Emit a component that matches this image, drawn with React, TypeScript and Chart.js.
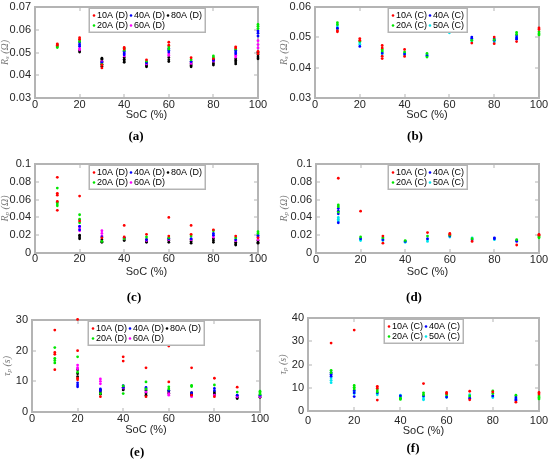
import { useEffect, useRef } from "react";
import { Chart, registerables } from "chart.js";

Chart.register(...registerables);

// state of charge on the x axis
const SOC = [10, 20, 30, 40, 50, 60, 70, 80, 90, 100];

// (a) Rs, discharge — one list of readings per SoC
const rsD10 = [[0.0538, 0.0532], [0.0565, 0.0558], [0.0445, 0.0432], [0.0522, 0.0515], [0.0468], [0.0545, 0.0532], [0.0477], [0.0472], [0.0525, 0.052], [0.0505, 0.0495]];
const rsD20 = [[0.0534, 0.0526, 0.0522], [0.0555, 0.0548], [0.0448], [0.0518, 0.051], [0.0462], [0.0525, 0.0515], [0.0468], [0.0485, 0.0478], [0.0515], [0.0623, 0.0615, 0.0605]];
const rsD40 = [[], [0.0543, 0.0535, 0.0528], [0.0455], [0.0505, 0.0498, 0.049], [0.0455], [0.0518, 0.051, 0.0502], [0.046], [0.047, 0.0465], [0.051, 0.0502, 0.0495], [0.0595, 0.0585, 0.0572]];
const rsD60 = [[], [0.0518, 0.0512], [0.046], [0.0495, 0.0485], [0.045], [0.0495, 0.0488], [0.0452], [0.0462], [0.0488, 0.048], [0.0552, 0.0535, 0.052]];
const rsD80 = [[], [0.0508, 0.0502], [0.0475, 0.047, 0.0462, 0.0455, 0.0448, 0.044], [0.0478, 0.047, 0.0463, 0.0457], [0.0455, 0.0448, 0.0442, 0.0437], [0.0478, 0.0468, 0.046], [0.0458, 0.045, 0.0443, 0.0437], [0.0468, 0.046, 0.0452, 0.0445], [0.0472, 0.0465, 0.0458, 0.045], [0.05, 0.049, 0.048, 0.0472]];

// (b) Rs, charge
const rsC10 = [[0.0522, 0.0518], [0.0496, 0.049], [0.0473, 0.0465, 0.0438, 0.043], [0.046, 0.0437], [], [], [0.0481], [0.0501, 0.0479], [0.0486], [0.0531, 0.0526]];
const rsC20 = [[0.0548, 0.0542], [0.0487], [0.046, 0.0455], [0.0452], [0.0447, 0.0435], [], [0.049], [0.0492], [0.0516, 0.051], [0.0518, 0.0512, 0.0508]];
const rsC40 = [[0.053], [0.047], [0.0448], [0.0445], [0.044], [], [0.0501, 0.0496], [0.0495, 0.049], [0.0505, 0.0498, 0.0494], []];
const rsC50 = [[0.0538, 0.0532, 0.0526], [0.0482, 0.0477], [0.0452, 0.0445], [0.0448, 0.0442], [0.0443, 0.0438], [0.0525, 0.052, 0.0515], [0.0493, 0.0488], [0.0488, 0.0485], [0.05], []];

// (c) Rp, discharge
const rpD10 = [[0.085, 0.067, 0.065, 0.058, 0.048], [0.064, 0.036], [0.017], [0.031, 0.018], [0.021], [0.04, 0.019], [0.031, 0.021], [0.026], [0.019], [0.017]];
const rpD20 = [[0.073, 0.057, 0.055, 0.053], [0.043, 0.038, 0.034], [0.013], [0.016], [0.018], [0.017], [0.019], [0.025], [0.017], [0.024, 0.022]];
const rpD40 = [[], [0.03, 0.026], [0.018], [0.017], [0.015], [0.016], [0.016], [0.022, 0.02], [0.015], [0.02, 0.018]];
const rpD60 = [[], [0.03, 0.028, 0.025], [0.025, 0.022, 0.019], [0.016], [0.014], [0.015], [0.015], [0.018], [0.014], [0.015]];
const rpD80 = [[], [0.02, 0.018, 0.016], [0.015, 0.013, 0.012], [0.017, 0.015, 0.014], [0.015, 0.013, 0.012], [0.016, 0.014, 0.012], [0.015, 0.013, 0.011], [0.016, 0.014, 0.012], [0.012, 0.01, 0.009], [0.014, 0.012, 0.011]];

// (d) Rp, charge
const rpC10 = [[0.084], [0.047], [0.019, 0.011], [], [0.023], [0.022, 0.021], [0.013], [], [0.009], [0.021, 0.02]];
const rpC20 = [[0.054, 0.052, 0.046], [0.018], [0.017], [0.014], [0.019], [0.02], [0.016], [], [0.015], [0.019, 0.018, 0.017]];
const rpC40 = [[0.05, 0.047, 0.044, 0.034], [0.016], [0.015], [0.013], [0.016], [0.019], [0.015], [0.017, 0.016], [0.014, 0.013], []];
const rpC50 = [[0.04, 0.038, 0.036], [0.015, 0.014], [0.016, 0.014], [0.013, 0.012], [0.015, 0.013], [0.018], [0.017], [0.015], [], []];

// (e) tau_p, discharge
const tpD10 = [[26.7, 19.4, 18.8, 13.8], [30.2, 20, 11, 10.5], [5], [18, 16.6], [14.4, 5], [21.5, 9.8], [14.4, 5.5], [11, 5], [8.1], []];
const tpD20 = [[21, 17.5, 16.8, 16], [18, 13], [6], [8.5, 6], [9.8, 7.5], [8.2, 7.5], [8.7, 8.3], [8.8], [6.5], [6.8, 6.3, 5.8]];
const tpD40 = [[], [9.5, 8.8, 8.2], [7.5, 7], [8.6, 8], [8, 7.5], [7], [6.2], [7.7, 7], [5.5], [5.5]];
const tpD60 = [[], [15.3, 14.5, 14], [10.8, 10, 9.2], [7.8], [6.5], [6, 5.5], [5], [5.5], [5], [5]];
const tpD80 = [[], [13.8, 12.5, 11.5], [7.2, 6.5, 5.8], [8, 7.5, 7.2], [7, 6.2, 5.5], [7, 6.5, 6], [6.3, 5.8, 5.3], [6.5, 6, 5.5], [5.3, 4.8, 4.4], [5.2, 4.8]];

// (f) tau_p, charge
const tpC10 = [[29.2], [34.8], [10.6, 9.8, 4.7], [], [11.8], [8, 7.5], [8.5, 4.8], [8.2], [3.8], [8, 7.3]];
const tpC20 = [[17.5, 16.5], [11, 10.2, 9.5], [9, 8.2], [5.5, 5], [7.8, 7], [7], [6.5], [8.6, 7.5], [6.8], [6.5, 5.8, 5.2]];
const tpC40 = [[16.5, 15.8, 15], [8.8, 7.8, 6.2], [7.8], [6.5], [6.5], [6], [5.5], [6.5], [6, 5, 4.5], []];
const tpC50 = [[14.2, 13.2, 12.2], [8.5, 7.5], [7.5, 7], [6.8, 6, 5.5], [6, 5.2, 4.8], [6.5, 5.8], [7, 6], [6.5, 5.8], [5.5], []];

const RED = "#ff0000";
const GREEN = "#00e600";
const BLUE = "#0000ff";
const MAGENTA = "#ff00ff";
const BLACK = "#000000";
const CYAN = "#00e5ee";

const TEXT = "#262626";
const FRAME = "#b4b4b4";
const SANS = '"Liberation Sans", Arial, sans-serif';
const SERIF = '"Liberation Serif", "DejaVu Serif", serif';

type Series = { label: string; color: string; values: number[][] };
type Area = { l: number; r: number; t: number; b: number };

interface PanelProps {
  left: number;
  top: number;
  height: number;
  area: Area;
  tickY: number;
  titleY: number;
  yTitleX: number;
  yMin: number;
  yMax: number;
  yStep: number;
  yFmt: (v: number) => string;
  ySym: string;
  ySub: string;
  yUnit: string;
  series: Series[];
  caption: string;
  capX: number;
  capY: number;
}

const W = 275;

// box round the plot area, with short ticks pointing inwards (filled 2px bars)
const framePlugin = {
  id: "frame",
  beforeDatasetsDraw(chart: any) {
    const { ctx, chartArea: a, scales } = chart;
    const L = Math.round(a.left);
    const R = Math.round(a.right);
    const T = Math.round(a.top);
    const B = Math.round(a.bottom);
    ctx.save();
    ctx.fillStyle = FRAME;
    ctx.fillRect(L - 1, T - 1, R - L + 2, 2);
    ctx.fillRect(L - 1, B - 1, R - L + 2, 2);
    ctx.fillRect(L - 1, T - 1, 2, B - T + 2);
    ctx.fillRect(R - 1, T - 1, 2, B - T + 2);
    scales.x.ticks.forEach((t: any) => {
      const px = Math.round(scales.x.getPixelForValue(t.value));
      ctx.fillRect(px - 0.5, B - 4, 1, 3);
      ctx.fillRect(px - 0.5, T + 1, 1, 3);
    });
    scales.y.ticks.forEach((t: any) => {
      const py = Math.round(scales.y.getPixelForValue(t.value));
      ctx.fillRect(L + 1, py - 0.5, 3, 1);
      ctx.fillRect(R - 4, py - 0.5, 3, 1);
    });
    ctx.restore();
  },
};

const boxLegend = {
  id: "boxLegend",
  afterDatasetsDraw(chart: any) {
    const { ctx, chartArea: a } = chart;
    const ds = chart.data.datasets;
    const rows = 2;
    const cols = Math.ceil(ds.length / rows);
    ctx.save();
    ctx.font = `9px ${SANS}`;
    const textW = Math.max(...ds.map((d: any) => ctx.measureText(d.label).width));
    const colW = textW + 6;
    const boxW = Math.round(5 + (cols - 1) * colW + 3 + textW + 3);
    const rowH = 10;
    const boxH = rows * rowH + 4;
    const x0 = Math.round((a.left + a.right) / 2 - boxW / 2);
    const y0 = Math.round(a.top) + 1;
    ctx.fillStyle = FRAME;
    ctx.fillRect(x0 - 0.5, y0 - 0.5, boxW + 1.5, boxH + 1.5);
    ctx.fillStyle = "#ffffff";
    ctx.fillRect(x0 + 1, y0 + 1, boxW - 1.5, boxH - 1.5);
    ds.forEach((d: any, i: number) => {
      const c = Math.floor(i / rows);
      const r = i % rows;
      const cx = x0 + 5 + c * colW;
      const cy = y0 + 2.5 + r * rowH + rowH / 2;
      ctx.fillStyle = d.backgroundColor;
      ctx.beginPath();
      ctx.arc(cx, cy, 1.3, 0, Math.PI * 2);
      ctx.fill();
      ctx.fillStyle = "#000000";
      ctx.textBaseline = "middle";
      ctx.textAlign = "left";
      ctx.fillText(d.label, cx + 3, cy + 0.5);
    });
    ctx.restore();
  },
};

function makeYTitle(sym: string, sub: string, unit: string, tx: number) {
  return {
    id: "yTitle",
    afterDraw(chart: any) {
      const { ctx, chartArea: a } = chart;
      const big = `italic 10px ${SERIF}`;
      const small = `italic 7px ${SERIF}`;
      ctx.save();
      ctx.font = big;
      const w1 = ctx.measureText(sym).width;
      const w3 = ctx.measureText(unit).width;
      ctx.font = small;
      const w2 = ctx.measureText(sub).width;
      const total = w1 + w2 + w3;
      ctx.translate(tx, (a.top + a.bottom) / 2);
      ctx.rotate(-Math.PI / 2);
      ctx.fillStyle = "#7a7a7a";
      ctx.textBaseline = "middle";
      ctx.textAlign = "left";
      let x = -total / 2;
      ctx.font = big;
      ctx.fillText(sym, x, 0);
      x += w1;
      ctx.font = small;
      ctx.fillText(sub, x, 2.5);
      x += w2;
      ctx.font = big;
      ctx.fillText(unit, x, 0);
      ctx.restore();
    },
  };
}

function Panel(p: PanelProps) {
  const canvasRef = useRef<HTMLCanvasElement | null>(null);
  const chartRef = useRef<Chart | null>(null);

  useEffect(() => {
    const ctx = canvasRef.current?.getContext("2d");
    if (!ctx) return;
    const { area, height } = p;
    const datasets = p.series.map((s) => ({
      label: s.label,
      data: SOC.flatMap((x, i) => s.values[i].map((y) => ({ x, y }))),
      backgroundColor: s.color,
      borderWidth: 0,
      pointRadius: 1.4,
      pointHoverRadius: 1.4,
      clip: 4,
    }));
    const tickFont = { family: SANS, size: 11 };
    chartRef.current = new Chart(ctx, {
      type: "scatter",
      data: { datasets },
      options: {
        animation: false,
        responsive: false,
        events: [],
        layout: { padding: { left: 0, top: area.t, right: W - area.r, bottom: 0 } },
        plugins: { legend: { display: false }, tooltip: { enabled: false } },
        scales: {
          x: {
            type: "linear",
            min: 0,
            max: 100,
            grid: { display: false, drawTicks: false },
            border: { display: false },
            ticks: { stepSize: 20, color: TEXT, font: tickFont, padding: p.tickY - area.b - 6, maxRotation: 0, autoSkip: false },
            title: { display: true, text: "SoC (%)", color: TEXT, font: { family: SANS, size: 11 }, padding: { top: 0, bottom: height - p.titleY - 6.6 } },
            afterFit: (s: any) => {
              s.height = height - area.b;
              s.paddingLeft = 0;
              s.paddingRight = 0;
            },
          },
          y: {
            type: "linear",
            min: p.yMin,
            max: p.yMax,
            grid: { display: false, drawTicks: false },
            border: { display: false },
            ticks: { stepSize: p.yStep, color: TEXT, font: tickFont, padding: 4, callback: (v: any) => p.yFmt(Number(v)) },
            afterFit: (s: any) => {
              s.width = area.l;
              s.paddingTop = 0;
              s.paddingBottom = 0;
            },
          },
        },
      },
      plugins: [framePlugin, boxLegend, makeYTitle(p.ySym, p.ySub, p.yUnit, p.yTitleX)],
    });
    return () => {
      chartRef.current?.destroy();
      chartRef.current = null;
    };
  }, []);

  return (
    <>
      <canvas ref={canvasRef} width={W} height={p.height} style={{ position: "absolute", left: p.left, top: p.top }} />
      <div
        style={{
          position: "absolute",
          left: p.capX,
          top: p.capY,
          transform: "translate(-50%, -50%)",
          fontFamily: SERIF,
          fontWeight: "bold",
          fontSize: 13,
          color: "#000",
          whiteSpace: "nowrap",
        }}
      >
        {p.caption}
      </div>
    </>
  );
}

const fmt2 = (v: number) => v.toFixed(2);
const fmtShort = (v: number) => (v === 0 ? "0" : String(+v.toFixed(2)));
const fmtInt = (v: number) => String(Math.round(v));

const discharge = (a: number[][], b: number[][], c: number[][], d: number[][], e: number[][]): Series[] => [
  { label: "10A (D)", color: RED, values: a },
  { label: "20A (D)", color: GREEN, values: b },
  { label: "40A (D)", color: BLUE, values: c },
  { label: "60A (D)", color: MAGENTA, values: d },
  { label: "80A (D)", color: BLACK, values: e },
];

const charge = (a: number[][], b: number[][], c: number[][], d: number[][]): Series[] => [
  { label: "10A (C)", color: RED, values: a },
  { label: "20A (C)", color: GREEN, values: b },
  { label: "40A (C)", color: BLUE, values: c },
  { label: "50A (C)", color: CYAN, values: d },
];

export default function App() {
  return (
    <div style={{ position: "absolute", left: 0, top: 0, width: 550, height: 460, background: "#fff", overflow: "hidden" }}>
      <Panel left={0} top={0} height={130} area={{ l: 35, r: 258, t: 7, b: 98 }} tickY={104} titleY={115} yTitleX={5}
        yMin={0.03} yMax={0.07} yStep={0.01} yFmt={fmt2} ySym="R" ySub="s" yUnit=" (Ω)"
        series={discharge(rsD10, rsD20, rsD40, rsD60, rsD80)} caption="(a)" capX={136} capY={136} />
      <Panel left={275} top={0} height={130} area={{ l: 40, r: 264, t: 7, b: 98 }} tickY={104} titleY={115} yTitleX={9}
        yMin={0.03} yMax={0.06} yStep={0.01} yFmt={fmt2} ySym="R" ySub="s" yUnit=" (Ω)"
        series={charge(rsC10, rsC20, rsC40, rsC50)} caption="(b)" capX={415} capY={136} />
      <Panel left={0} top={150} height={135} area={{ l: 35, r: 258, t: 14, b: 103 }} tickY={108} titleY={122} yTitleX={5}
        yMin={0} yMax={0.1} yStep={0.02} yFmt={fmtShort} ySym="R" ySub="p" yUnit=" (Ω)"
        series={discharge(rpD10, rpD20, rpD40, rpD60, rpD80)} caption="(c)" capX={134} capY={297} />
      <Panel left={275} top={150} height={135} area={{ l: 41, r: 264, t: 14, b: 103 }} tickY={109} titleY={122} yTitleX={9}
        yMin={0} yMax={0.1} yStep={0.02} yFmt={fmtShort} ySym="R" ySub="p" yUnit=" (Ω)"
        series={charge(rpC10, rpC20, rpC40, rpC50)} caption="(d)" capX={414} capY={297} />
      <Panel left={0} top={305} height={135} area={{ l: 32, r: 260, t: 15, b: 107 }} tickY={113} titleY={125} yTitleX={7}
        yMin={0} yMax={30} yStep={10} yFmt={fmtInt} ySym="τ" ySub="p" yUnit=" (s)"
        series={discharge(tpD10, tpD20, tpD40, tpD60, tpD80)} caption="(e)" capX={137} capY={452} />
      <Panel left={275} top={305} height={135} area={{ l: 33, r: 264, t: 13, b: 106 }} tickY={115} titleY={126} yTitleX={8}
        yMin={0} yMax={40} yStep={10} yFmt={fmtInt} ySym="τ" ySub="p" yUnit=" (s)"
        series={charge(tpC10, tpC20, tpC40, tpC50)} caption="(f)" capX={413} capY={448} />
    </div>
  );
}
